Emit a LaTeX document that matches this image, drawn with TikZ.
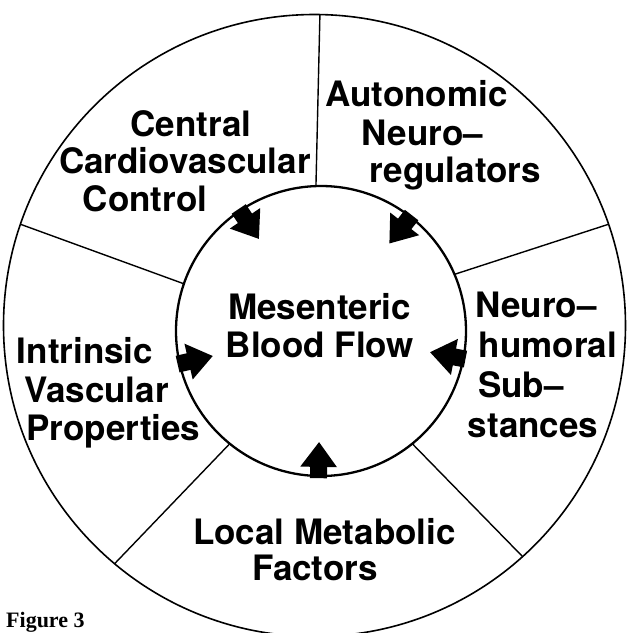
\documentclass[tikz,border=0pt]{standalone}
\usepackage{fontspec}
\setmainfont{TeX Gyre Heros}
\newfontfamily\capfont{Liberation Serif}
\usetikzlibrary{arrows.meta,calc}
\tikzset{
  lbl/.style={anchor=base, inner sep=0pt, font=\bfseries\fontsize{35}{38}\selectfont},
  ring/.style={circle, draw, outer sep=0pt, inner sep=0pt},
  divider/.style={line width=1.4pt},
  bigarrow/.style={line width=17pt, -{Triangle[length=25pt,width=35pt]}},
}
\begin{document}
\begin{tikzpicture}[x=1pt,y=-1pt]
\useasboundingbox (0,0) rectangle (628,633);
% rings
\node[ring, line width=1.6pt, minimum size=622pt] (out) at (314.5,325.5) {};
\node[ring, line width=2.3pt, minimum size=290pt] (in) at (321,331) {};
% dividers
\draw[divider] (in.92) -- (out.89.7);
\draw[divider] (in.161.3) -- (out.161.7);
\draw[divider] (in.23.6) -- (out.19.4);
\draw[divider] (in.231) -- (out.230.7);
\draw[divider] (in.309) -- (out.312.8);
% arrows
\foreach \a/\n in {124.5/atl, 52.7/atr, -11/ar, -91/ab, 193/al}{
  \coordinate (\n s) at ($(in.center)!1.015!(in.\a)$);
  \coordinate (\n t) at ($(in.center)!0.765!(in.\a)$);
  \draw[bigarrow] (\n s) -- (\n t);
}
% labels
\node[lbl] (c1) at (191,136) {Central};
\node[lbl] (c2) at (185,173) {Cardiovascular};
\node[lbl] (c3) at (145,211) {Control};
\node[lbl] (a1) at (416.5,106) {Autonomic};
\node[lbl] (a2) at (422.5,145) {Neuro--};
\node[lbl] (a3) at (455.5,182) {regulators};
\node[lbl] (n1) at (536,317) {Neuro--};
\node[lbl] (n2) at (548,357) {humoral};
\node[lbl] (n3) at (521,397) {Sub--};
\node[lbl] (n4) at (533,437) {stances};
\node[lbl] (i1) at (85,363) {Intrinsic};
\node[lbl] (i2) at (96.5,402) {Vascular};
\node[lbl] (i3) at (113.5,440) {Properties};
\node[lbl] (l1) at (324.5,544) {Local Metabolic};
\node[lbl] (l2) at (315,580) {Factors};
\node[lbl] (m1) at (319.5,319) {Mesenteric};
\node[lbl] (m2) at (320,357) {Blood Flow};
\node[anchor=base west, inner sep=0pt, font=\capfont\bfseries\fontsize{22}{26}\selectfont] (fig) at (6,627) {Figure 3};
\end{tikzpicture}
\end{document}
